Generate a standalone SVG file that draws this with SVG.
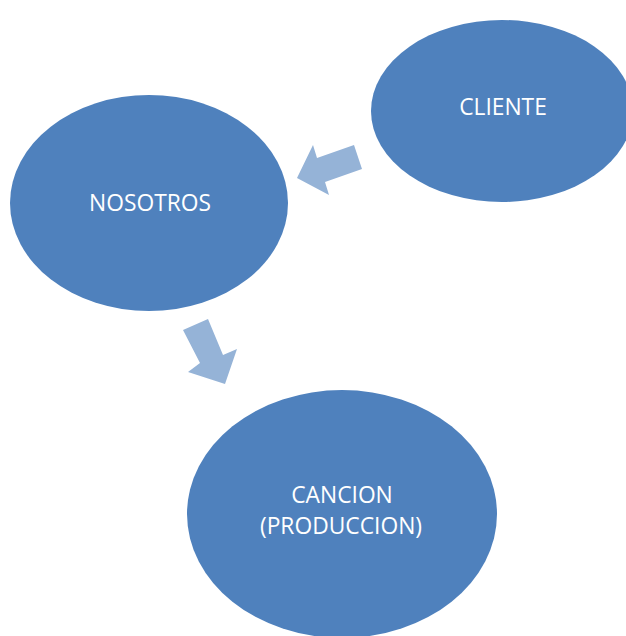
<svg xmlns="http://www.w3.org/2000/svg" width="626" height="636" viewBox="0 0 626 636">
<style>
.node{fill:#4F81BD;}
.lbl{fill:#FFFFFF;font-family:"Open Sans","Liberation Sans",sans-serif;font-size:22.8px;text-anchor:middle;dominant-baseline:central;}
.arr{fill:#95B3D7;}
</style>
<rect width="626" height="636" fill="#FFFFFF"/>
<g id="cliente"><ellipse class="node" cx="502" cy="111" rx="131" ry="91"/><text class="lbl" x="503" y="106">CLIENTE</text></g>
<g id="nosotros"><ellipse class="node" cx="149" cy="203" rx="139" ry="108"/><text class="lbl" x="150" y="202">NOSOTROS</text></g>
<g id="cancion"><ellipse class="node" cx="342" cy="514" rx="155" ry="124"/><text class="lbl" x="342" y="494">CANCION</text><text class="lbl" x="341" y="525">(PRODUCCION)</text></g>
<g id="connectors">
<polygon class="arr" points="354,145 362,169 325,182 329,195 297,178 313,145 317,158"/>
<polygon class="arr" points="183,330 208,319 223,355 237,349 225,384 188,372 200,363"/>
</g>
</svg>
